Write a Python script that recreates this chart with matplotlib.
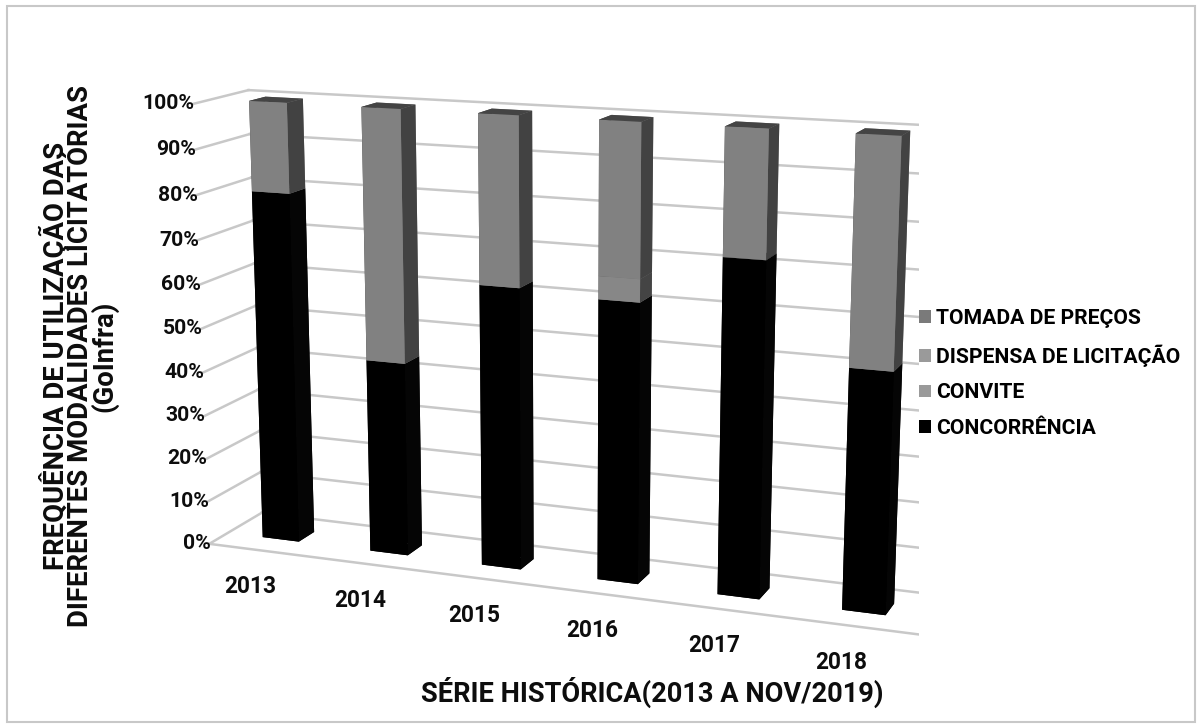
import numpy as np
import matplotlib
matplotlib.use('Agg')
import matplotlib.pyplot as plt
import matplotlib.transforms as mtransforms
from matplotlib.patches import Rectangle, Patch
from mpl_toolkits.mplot3d import proj3d

# ---------------- data ----------------
years = ['2013', '2014', '2015', '2016', '2017', '2018']
concorrencia = [80, 44, 63, 62, 73, 52]
convite = [0, 0, 0, 5, 0, 0]
dispensa = [20, 56, 37, 33, 27, 48]
tomada = [0, 0, 0, 0, 0, 0]
series_names = ['CONCORRÊNCIA', 'CONVITE', 'DISPENSA DE LICITAÇÃO', 'TOMADA DE PREÇOS']
z_ticks = [0, 10, 20, 30, 40, 50, 60, 70, 80, 90, 100]
z_tick_labels = ['0%', '10%', '20%', '30%', '40%', '50%', '60%', '70%', '80%', '90%', '100%']
y_title = 'FREQUÊNCIA DE UTILIZAÇÃO DAS\nDIFERENTES MODALIDADES LICITATÓRIAS\n(GoInfra)'
x_title = 'SÉRIE HISTÓRICA(2013 A NOV/2019)'

# ---------------- style ----------------
FONT = ['Roboto', 'DejaVu Sans']
plt.rcParams['font.family'] = FONT
front_cols = ['#000000', '#878787', '#818181', '#6e6e6e']
side_cols = ['#050505', '#444444', '#424242', '#3a3a3a']
top_cols = ['#151515', '#464646', '#444444', '#3a3a3a']
legend_cols = ['#000000', '#9a9a9a', '#9a9a9a', '#7a7a7a']
GRID = '#c8c8c8'
TXT = '#0d0d0d'

fig = plt.figure(figsize=(12.02, 7.28), dpi=100)
fig.patches.append(Rectangle((0.006, 0.008), 0.988, 0.984, transform=fig.transFigure,
                             fill=False, edgecolor='#c8c8c8', linewidth=1.5))

ax = fig.add_axes([0.037, 0.0095, 0.85, 1.0], projection='3d', computed_zorder=False)
ax.set_proj_type('persp', focal_length=0.603)
ax.view_init(elev=13.5, azim=-69)

n = len(years)
X0, X1 = 0.0, float(n)
D = 0.92
bw, bd = 0.34, 0.28
yb = D / 2 - bd / 2
ax.set_xlim(X0, X1)
ax.set_ylim(0, D)
ax.set_zlim(0, 100)
ax.set_box_aspect((X1 - X0, D, 3.68), zoom=1.2)
ax.set_axis_off()

# gridlines on back wall and left side wall
for zt in z_ticks:
    ax.plot([X0, X1], [D, D], [zt, zt], color=GRID, lw=1.8, zorder=1)
    ax.plot([X0, X0], [0, D], [zt, zt], color=GRID, lw=1.8, zorder=1)
# floor front edge
ax.plot([X0, X1], [0, 0], [0, 0], color=GRID, lw=1.8, zorder=1)

# stacked bars (one collection so faces are depth-sorted together)
series = [concorrencia, convite, dispensa, tomada]
xs, ys, zs, dxs, dys, dzs, cols = [], [], [], [], [], [], []
for i in range(n):
    base = 0.0
    for s, vals in enumerate(series):
        v = vals[i]
        if v > 0:
            xs.append(i + 0.5 - bw / 2)
            ys.append(yb)
            zs.append(base)
            dxs.append(bw)
            dys.append(bd)
            dzs.append(v)
            # faces: -z, +z, -y, +y, -x, +x
            cols += [front_cols[s], top_cols[s], front_cols[s], front_cols[s],
                     side_cols[s], side_cols[s]]
            base += v
ax.bar3d(xs, ys, zs, dxs, dys, dzs, color=cols, shade=False, zorder=3,
         edgecolor='none', linewidth=0)

# ---- labels placed at projected data positions ----
fig.canvas.draw()
M = ax.get_proj()


def project(x, y, z):
    px, py, _ = proj3d.proj_transform(np.atleast_1d(x), np.atleast_1d(y),
                                      np.atleast_1d(z), M)
    return float(px[0]), float(py[0])


tick_tr = mtransforms.offset_copy(ax.transData, fig=fig, x=1, y=0, units='dots')
for zt, lab in zip(z_ticks, z_tick_labels):
    px, py = project(X0, 0, zt)
    ax.text2D(px, py, lab, transform=tick_tr, ha='right', va='center', fontsize=15.2,
              fontweight='bold', color=TXT, zorder=5)

year_tr = mtransforms.offset_copy(ax.transData, fig=fig, x=-12, y=-36, units='dots')
for i, yr in enumerate(years):
    px, py = project(i + 0.5, 0, 0)
    ax.text2D(px, py, yr, transform=year_tr, ha='center', va='center', fontsize=16.3,
              fontweight='bold', color=TXT, zorder=5)

fig.text(0.0655, 0.511, y_title, rotation=90, ha='center', va='center', fontsize=19.8,
         fontweight='bold', linespacing=0.84, color=TXT)
fig.text(0.543, 0.049, x_title, ha='center', va='center', fontsize=19.6, fontweight='bold',
         color=TXT)

handles = [Patch(facecolor=legend_cols[k], edgecolor='none') for k in [3, 2, 1, 0]]
labels = [series_names[k] for k in [3, 2, 1, 0]]
fig.legend(handles, labels, loc='center left', bbox_to_anchor=(0.749, 0.487), frameon=False,
           handlelength=0.55, handleheight=0.55, handletextpad=0.25, labelspacing=0.78,
           prop={'weight': 'bold', 'size': 15.2})

fig.savefig('out.png', dpi=100)
